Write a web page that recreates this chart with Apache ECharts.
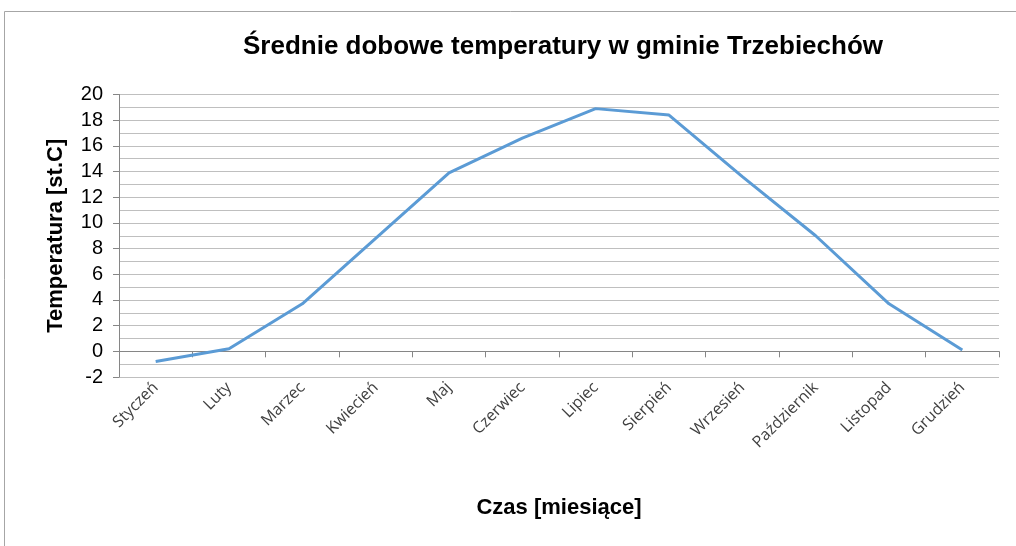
<!DOCTYPE html>
<html>
<head>
<meta charset="utf-8">
<script src="https://cdn.jsdelivr.net/npm/echarts@6/dist/echarts.min.js"></script>
<style>
  html, body { margin: 0; padding: 0; background: #fff; }
  #chart { width: 1016px; height: 546px; }
</style>
</head>
<body>
<div id="chart"></div>
<script>
// dane z wykresu
var months = ['Styczeń', 'Luty', 'Marzec', 'Kwiecień', 'Maj', 'Czerwiec',
              'Lipiec', 'Sierpień', 'Wrzesień', 'Październik', 'Listopad', 'Grudzień'];
var temps = [-0.8, 0.2, 3.7, 8.8, 13.9, 16.6, 18.9, 18.4, 13.6, 9.0, 3.7, 0.1];
var yMin = -2, yMax = 20, yStep = 2;

var myChart = echarts.init(document.getElementById('chart'));
var option = {
    animation: false,
    title: {
        text: 'Średnie dobowe temperatury w gminie Trzebiechów',
        left: 558,
        top: 29,
        textAlign: 'center',
        textStyle: {
            fontFamily: 'Liberation Sans',
            fontWeight: 'bold',
            fontSize: 26,
            color: '#000'
        }
    },
    graphic: [{
        type: 'rect',
        shape: { x: 4.5, y: 11.5, width: 1100, height: 600 },
        style: { fill: 'none', stroke: '#a6a6a6', lineWidth: 1 },
        silent: true
    }],
    grid: {
        left: 119,
        right: 17,
        top: 94.5,
        bottom: 169
    },
    xAxis: [{
        type: 'category',
        data: months,
        position: 'bottom',
        boundaryGap: true,
        name: 'Czas [miesiące]',
        nameLocation: 'middle',
        nameGap: 120,
        nameTextStyle: {
            fontFamily: 'Liberation Sans',
            fontWeight: 'bold',
            fontSize: 22,
            color: '#000'
        },
        axisLine: { show: false, onZero: false },
        axisTick: { show: false },
        axisLabel: {
            rotate: 45,
            margin: 8,
            interval: 0,
            fontFamily: 'Open Sans',
            fontSize: 16,
            color: '#404040'
        },
        splitLine: { show: false }
    }, {
        type: 'category',
        data: months,
        position: 'bottom',
        boundaryGap: true,
        axisLine: { show: true, onZero: true, lineStyle: { color: '#868686', width: 1 } },
        axisTick: { show: true, length: 6, interval: 0, lineStyle: { color: '#868686' } },
        axisLabel: { show: false },
        splitLine: { show: false }
    }],
    yAxis: {
        type: 'value',
        min: yMin,
        max: yMax,
        interval: yStep,
        name: 'Temperatura [st.C]',
        nameLocation: 'middle',
        nameGap: 52,
        nameTextStyle: {
            fontFamily: 'Liberation Sans',
            fontWeight: 'bold',
            fontSize: 22,
            color: '#000'
        },
        axisLine: { show: true, lineStyle: { color: '#868686' } },
        axisTick: { show: true, length: 6, lineStyle: { color: '#868686' } },
        axisLabel: {
            margin: 16,
            fontFamily: 'Liberation Sans',
            fontSize: 20,
            color: '#000'
        },
        minorTick: { show: false, splitNumber: 2 },
        splitLine: { show: true, lineStyle: { color: '#bfbfbf', width: 1 } },
        minorSplitLine: { show: true, lineStyle: { color: '#bfbfbf', width: 1 } }
    },
    series: [{
        type: 'line',
        data: temps,
        xAxisIndex: 0,
        showSymbol: false,
        symbol: 'none',
        lineStyle: { color: '#5b9bd5', width: 3 },
        z: 5
    }]
};
myChart.setOption(option);
</script>
</body>
</html>
